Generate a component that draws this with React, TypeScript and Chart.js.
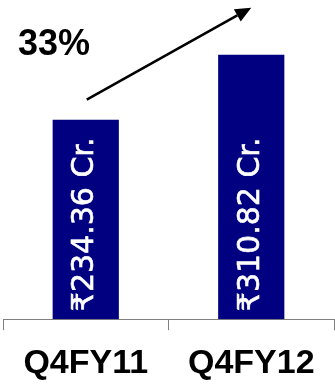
import React, { useEffect, useRef } from "react";
import { Chart, registerables } from "chart.js";

Chart.register(...registerables);

const categories = ["Q4FY11", "Q4FY12"];
const revenue = [234.36, 310.82];
const barLabels = ["₹234.36 Cr.", "₹310.82 Cr."];

const overlayPlugin = {
  id: "overlay",
  afterDatasetsDraw(chart: any) {
    const { ctx } = chart;
    const meta = chart.getDatasetMeta(0);
    const area = chart.chartArea;
    ctx.save();
    // labels inside bars
    meta.data.forEach((bar: any, i: number) => {
      ctx.save();
      ctx.translate(bar.x + 7.5, area.bottom - 8);
      ctx.rotate(-Math.PI / 2);
      ctx.fillStyle = "#ffffff";
      ctx.strokeStyle = "#ffffff";
      ctx.lineWidth = 0.6;
      ctx.font = "30px 'DejaVu Sans'";
      ctx.textAlign = "left";
      ctx.textBaseline = "alphabetic";
      ctx.fillText(barLabels[i], 0, 0);
      ctx.strokeText(barLabels[i], 0, 0);
      ctx.restore();
    });
    // growth arrow
    const b0 = meta.data[0];
    const b1 = meta.data[1];
    const x0 = b0.x + 1;
    const y0 = b0.y - 20;
    const x1 = b1.x;
    const y1 = b1.y - 47;
    const ang = Math.atan2(y1 - y0, x1 - x0);
    const headLen = 16;
    const headW = 7;
    const bx = x1 - headLen * Math.cos(ang);
    const by = y1 - headLen * Math.sin(ang);
    ctx.strokeStyle = "#000";
    ctx.lineWidth = 2.5;
    ctx.beginPath();
    ctx.moveTo(x0, y0);
    ctx.lineTo(bx, by);
    ctx.stroke();
    ctx.fillStyle = "#000";
    ctx.beginPath();
    ctx.moveTo(x1, y1);
    ctx.lineTo(bx + headW * Math.sin(ang), by - headW * Math.cos(ang));
    ctx.lineTo(bx - headW * Math.sin(ang), by + headW * Math.cos(ang));
    ctx.closePath();
    ctx.fill();
    // growth percentage
    const growth = Math.round((revenue[1] / revenue[0] - 1) * 100);
    ctx.font = "bold 36px 'Liberation Sans'";
    ctx.textAlign = "left";
    ctx.textBaseline = "alphabetic";
    ctx.fillText(growth + "%", area.left + 15, b0.y - 65);
    ctx.restore();
  },
};

export default function App() {
  const ref = useRef<HTMLCanvasElement>(null);
  useEffect(() => {
    const chart = new Chart(ref.current!, {
      type: "bar",
      data: {
        labels: categories,
        datasets: [
          {
            data: revenue,
            backgroundColor: "#000080",
            borderWidth: 0,
            barPercentage: 0.4,
            categoryPercentage: 1,
          },
        ],
      },
      options: {
        animation: false,
        responsive: false,
        maintainAspectRatio: false,
        layout: { padding: { left: 3, right: 1, top: 0, bottom: -13 } },
        plugins: { legend: { display: false }, tooltip: { enabled: false } },
        scales: {
          y: { display: false, min: 0, max: 375 },
          x: {
            grid: {
              display: true,
              drawOnChartArea: false,
              drawTicks: true,
              tickLength: 11,
              color: "#808080",
              offset: true,
            },
            border: { display: true, color: "#808080", width: 1 },
            ticks: {
              color: "#000",
              padding: 13,
              font: { family: "'Liberation Sans'", size: 34, weight: "bold" },
            },
          },
        },
      },
      plugins: [overlayPlugin],
    });
    return () => chart.destroy();
  }, []);
  return (
    <div style={{ position: "fixed", left: 0, top: 0, width: 335, height: 384 }}>
      <canvas ref={ref} width={335} height={384} />
    </div>
  );
}
